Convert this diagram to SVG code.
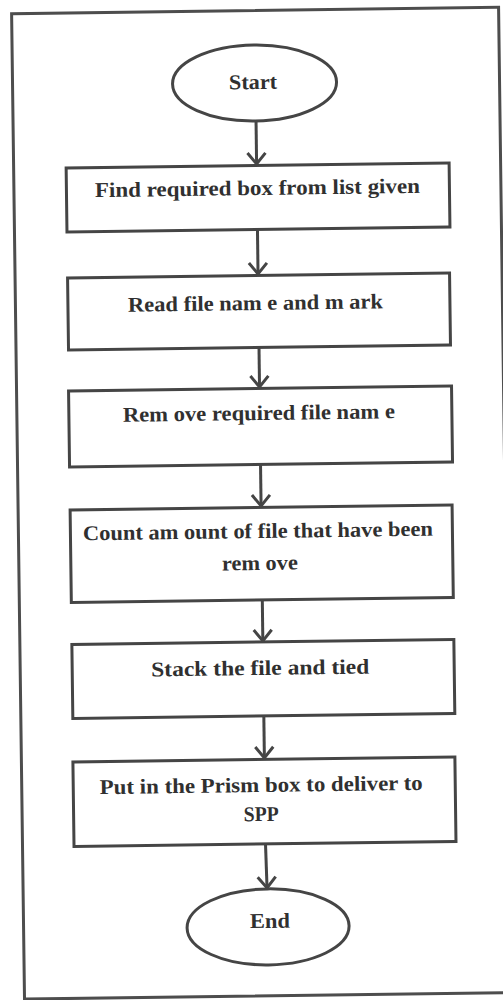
<svg xmlns="http://www.w3.org/2000/svg" width="503" height="1000" viewBox="0 0 503 1000">
  <defs>
    <style>
      .frame { fill: none; stroke: #4d4d4d; stroke-width: 3; }
      .shape { fill: #ffffff; stroke: #454545; stroke-width: 3; }
      .link { fill: none; stroke: #454545; stroke-width: 3; }
      .label { font-family: "Liberation Serif", "Times New Roman", serif; font-size: 21px; font-weight: bold; fill: #303030; text-anchor: middle; }
    </style>
    <marker id="arrow" markerUnits="userSpaceOnUse" markerWidth="30" markerHeight="30" viewBox="-15 -15 30 30" refX="0" refY="0" orient="auto">
      <path d="M -12,-9 L -1,0 L -12,9" fill="none" stroke="#454545" stroke-width="3" stroke-linejoin="miter"/>
    </marker>
  </defs>
  <rect width="503" height="1000" fill="#ffffff"/>
  <!-- whole sheet sits slightly tilted -->
  <g transform="rotate(-0.75 256 500)">
    <rect class="frame" x="18" y="10.5" width="487" height="985.5"/>

    <g id="connectors">
      <line class="link" x1="261" y1="121" x2="261" y2="165" marker-end="url(#arrow)"/>
      <line class="link" x1="261" y1="229.5" x2="261" y2="275" marker-end="url(#arrow)"/>
      <line class="link" x1="261" y1="347.5" x2="261" y2="388" marker-end="url(#arrow)"/>
      <line class="link" x1="261" y1="464.5" x2="261" y2="507" marker-end="url(#arrow)"/>
      <line class="link" x1="261" y1="600" x2="261" y2="642" marker-end="url(#arrow)"/>
      <line class="link" x1="261" y1="716" x2="261" y2="759" marker-end="url(#arrow)"/>
      <line class="link" x1="261" y1="844" x2="262" y2="889" marker-end="url(#arrow)"/>
    </g>

    <g id="start">
      <ellipse class="shape" cx="260" cy="83" rx="82" ry="38"/>
      <text class="label" x="258.5" y="89" textLength="48" lengthAdjust="spacingAndGlyphs">Start</text>
    </g>

    <g id="find-box">
      <rect class="shape" x="70.5" y="165.5" width="383" height="64"/>
      <text class="label" x="261.5" y="195" textLength="325" lengthAdjust="spacingAndGlyphs">Find required box from  list given</text>
    </g>

    <g id="read-name">
      <rect class="shape" x="70.5" y="275.5" width="382" height="72"/>
      <text class="label" x="258" y="310" textLength="255" lengthAdjust="spacingAndGlyphs">Read file nam e and m ark</text>
    </g>

    <g id="remove-file">
      <rect class="shape" x="70" y="388.5" width="383" height="76"/>
      <text class="label" x="260" y="420" textLength="272" lengthAdjust="spacingAndGlyphs">Rem ove required file nam e</text>
    </g>

    <g id="count-files">
      <rect class="shape" x="70" y="507.5" width="382" height="92.5"/>
      <text class="label" x="257.5" y="538" textLength="350" lengthAdjust="spacingAndGlyphs">Count am ount of file that have been</text>
      <text class="label" x="259" y="570" textLength="76" lengthAdjust="spacingAndGlyphs">rem ove</text>
    </g>

    <g id="stack-tie">
      <rect class="shape" x="70" y="642" width="382" height="74"/>
      <text class="label" x="258" y="675" textLength="218" lengthAdjust="spacingAndGlyphs">Stack the file and tied</text>
    </g>

    <g id="prism-box">
      <rect class="shape" x="69.5" y="759.5" width="382" height="84.5"/>
      <text class="label" x="257.5" y="792" textLength="323" lengthAdjust="spacingAndGlyphs">Put in the Prism  box  to deliver to</text>
      <text class="label" x="257" y="821" textLength="35" lengthAdjust="spacingAndGlyphs">SPP</text>
    </g>

    <g id="end">
      <ellipse class="shape" cx="262.5" cy="927" rx="81" ry="38"/>
      <text class="label" x="264.5" y="928" textLength="40" lengthAdjust="spacingAndGlyphs">End</text>
    </g>
  </g>
</svg>
